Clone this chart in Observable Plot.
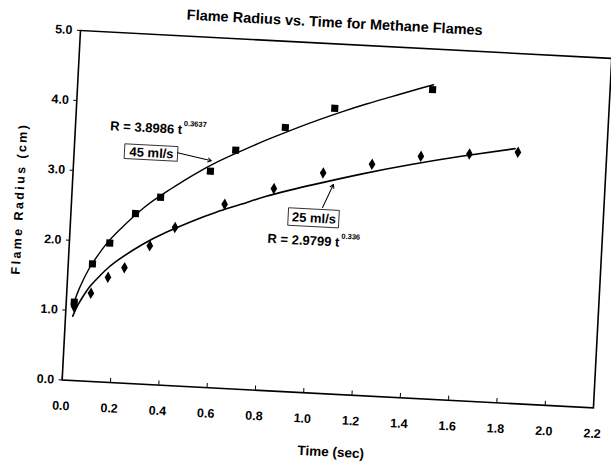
<!DOCTYPE html>
<html><head><meta charset="utf-8">
<script src="https://cdn.jsdelivr.net/npm/d3@7"></script>
<script src="https://cdn.jsdelivr.net/npm/@observablehq/plot@0.6"></script>
<style>
html,body{margin:0;background:#fff;}
body{width:611px;height:468px;overflow:hidden;position:relative;font-family:"Liberation Sans",Arial,sans-serif;}
#wrap{position:absolute;left:10px;top:20px;width:612px;height:430px;transform-origin:70px 10px;transform:rotate(3deg);}
#wrap svg{max-width:none !important;display:block;}
#title{position:absolute;left:324px;top:-20px;transform:translateX(-50%);white-space:nowrap;font-size:14.5px;font-weight:bold;line-height:18px;color:#000;}
</style></head><body>
<div id="wrap"><div id="title">Flame Radius vs. Time for Methane Flames</div><div id="chart"></div></div>
<script>
// Tick labels
const xTicks = [0, 0.2, 0.4, 0.6, 0.8, 1.0, 1.2, 1.4, 1.6, 1.8, 2.0, 2.2];
const yTicks = [0, 1, 2, 3, 4, 5];

// 45 ml/s series (squares)
const time45 = [0.033, 0.1, 0.167, 0.267, 0.367, 0.567, 0.667, 0.867, 1.067, 1.467];
const radius45 = [1.12, 1.68, 1.99, 2.43, 2.68, 3.09, 3.41, 3.77, 4.08, 4.42];

// 25 ml/s series (diamonds)
const time25 = [0.033, 0.1, 0.167, 0.233, 0.333, 0.433, 0.633, 0.833, 1.033, 1.233, 1.433, 1.633, 1.833];
const radius25 = [1.06, 1.26, 1.50, 1.65, 1.98, 2.26, 2.63, 2.89, 3.15, 3.31, 3.46, 3.53, 3.59];

// Power trendlines as drawn
const trendTime45 = [0.03, 0.05, 0.075, 0.1, 0.15, 0.2, 0.3, 0.4, 0.5, 0.6, 0.7, 0.8, 0.9, 1.0, 1.1, 1.2, 1.3, 1.4, 1.47];
const trendRadius45 = [1.09, 1.31, 1.52, 1.69, 1.96, 2.17, 2.52, 2.79, 3.03, 3.24, 3.42, 3.59, 3.75, 3.90, 4.04, 4.17, 4.29, 4.41, 4.49];
const trendTime25 = [0.03, 0.05, 0.075, 0.1, 0.15, 0.2, 0.3, 0.4, 0.5, 0.6, 0.7, 0.8, 0.9, 1.0, 1.2, 1.4, 1.6, 1.82];
const trendRadius25 = [0.92, 1.09, 1.25, 1.38, 1.58, 1.74, 1.99, 2.19, 2.36, 2.51, 2.64, 2.77, 2.88, 2.98, 3.17, 3.34, 3.49, 3.64];

// Annotations
const eqText = ["R = 3.8986 t", "R = 2.9799 t"];
const eqTime = [0.441, 1.115];
const eqRadius = [3.66, 2.17];
const eqExponent = ["0.3637", "0.336"];
const expTime = [0.447, 1.122];
const expRadius = [3.75, 2.26];
const seriesNames = ["45 ml/s", "25 ml/s"];
const boxTime1 = [0.21, 0.90], boxTime2 = [0.43, 1.11];
const boxRadius1 = [3.20, 2.37], boxRadius2 = [3.41, 2.62];
const nameTime = [0.32, 1.005], nameRadius = [3.305, 2.495];
const arrowTime1 = [0.427, 1.038], arrowRadius1 = [3.33, 2.656];
const arrowTime2 = [0.569, 1.078], arrowRadius2 = [3.24, 2.993];

const pts45 = time45.map((t, i) => ({t, r: radius45[i]}));
const pts25 = time25.map((t, i) => ({t, r: radius25[i]}));
const tr45 = trendTime45.map((t, i) => ({t, r: trendRadius45[i]}));
const tr25 = trendTime25.map((t, i) => ({t, r: trendRadius25[i]}));
const eqs = eqText.map((s, i) => ({s, t: eqTime[i], r: eqRadius[i], e: eqExponent[i], et: expTime[i], er: expRadius[i]}));
const boxes = seriesNames.map((s, i) => ({s, t1: boxTime1[i], t2: boxTime2[i], r1: boxRadius1[i], r2: boxRadius2[i], t: nameTime[i], r: nameRadius[i]}));
const arrows = seriesNames.map((s, i) => ({t1: arrowTime1[i], r1: arrowRadius1[i], t2: arrowTime2[i], r2: arrowRadius2[i]}));

const font = '"Liberation Sans", Arial, sans-serif';
const chart = Plot.plot({
  width: 612, height: 430,
  marginLeft: 70, marginRight: 10, marginTop: 10, marginBottom: 70,
  style: {fontFamily: font, fontSize: "12.5px", fontWeight: "bold", background: "white", color: "black", overflow: "visible"},
  x: {domain: [0, 2.2]},
  y: {domain: [0, 5]},
  marks: [
    Plot.axisY(yTicks, {tickSize: 3, tickPadding: 5, tickFormat: d => d.toFixed(1), label: null, fill: "black"}),
    Plot.axisX(xTicks, {tickSize: 0, tickPadding: 21, tickFormat: d => d.toFixed(1), label: null, fill: "black"}),
    Plot.ruleX(xTicks, {x: d => d, y1: 0, y2: 0.06, stroke: "black"}),
    Plot.line(tr45, {x: "t", y: "r", curve: "natural", stroke: "black", strokeWidth: 1.4}),
    Plot.line(tr25, {x: "t", y: "r", curve: "natural", stroke: "black", strokeWidth: 1.6}),
    Plot.dot(pts45, {x: "t", y: "r", symbol: "square", r: 4, fill: "black"}),
    Plot.dot(pts25, {x: "t", y: "r", symbol: "diamond", r: 3.5, fill: "black"}),
    Plot.rect(boxes, {x1: "t1", x2: "t2", y1: "r1", y2: "r2", fill: "white", stroke: "#222", strokeWidth: 0.9}),
    Plot.text(boxes, {x: "t", y: "r", text: "s", fontSize: 13, fontWeight: "bold", fill: "black"}),
    Plot.arrow(arrows, {x1: "t1", y1: "r1", x2: "t2", y2: "r2", stroke: "black", strokeWidth: 1, headLength: 6}),
    Plot.text(eqs, {x: "t", y: "r", text: "s", textAnchor: "end", fontSize: 13, fontWeight: "bold", fill: "black"}),
    Plot.text(eqs, {x: "et", y: "er", text: "e", textAnchor: "start", fontSize: 7.5, fontWeight: "bold", fill: "black"}),
    Plot.text(["Flame Radius (cm)"], {text: d => d, frameAnchor: "left", textAnchor: "middle", lineAnchor: "middle", dx: -52, dy: -4, rotate: -90, fontSize: 12.5, fontWeight: "bold", fill: "black"}),
    Plot.text(["Time (sec)"], {text: d => d, frameAnchor: "bottom", textAnchor: "middle", lineAnchor: "middle", dx: 6, dy: 58, fontSize: 13.5, fontWeight: "bold", fill: "black"}),
    Plot.frame({stroke: "black", strokeWidth: 1.6})
  ]
});
document.getElementById("chart").appendChild(chart);
d3.select(chart).selectAll("text").filter(function() { return this.textContent === "Flame Radius (cm)"; }).style("letter-spacing", "2.4px");
</script>
</body></html>
